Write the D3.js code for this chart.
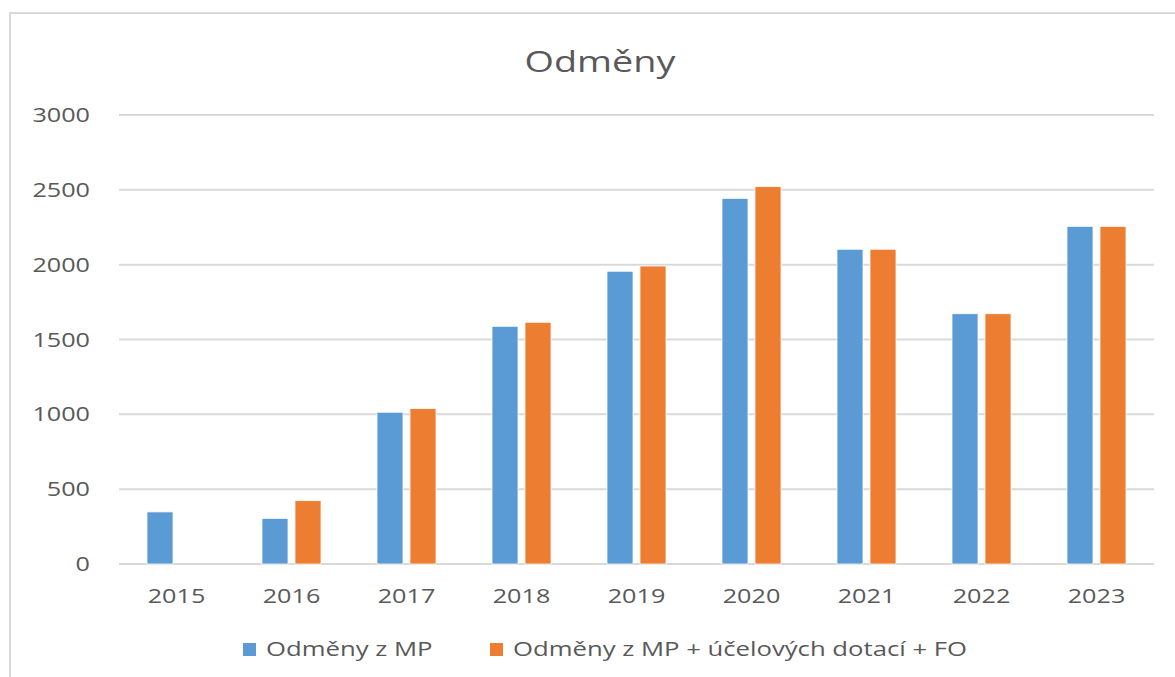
<!DOCTYPE html>
<html>
<head>
<meta charset="utf-8">
<script src="https://cdn.jsdelivr.net/npm/d3@7"></script>
<style>
  html, body { margin: 0; padding: 0; background: #fff; }
  text { font-family: "Open Sans", "Noto Sans", sans-serif; fill: #595959; }
</style>
</head>
<body>
<svg id="chart" width="1175" height="677"></svg>
<script>
const title = "Odměny";
const years = ["2015","2016","2017","2018","2019","2020","2021","2022","2023"];
const seriesNames = ["Odměny z MP", "Odměny z MP + účelových dotací + FO"];
const seriesMP = [348, 305, 1014, 1588, 1956, 2443, 2103, 1672, 2256];
const seriesMPplus = [null, 423, 1038, 1615, 1991, 2521, 2103, 1672, 2256];
const colors = ["#5B9BD5", "#ED7D31"];
const yTicks = [0, 500, 1000, 1500, 2000, 2500, 3000];

const svg = d3.select("#chart");
const SX = 1.26;
const plot = { left: 119, right: 1154, top: 115, bottom: 564 };

// chart border
svg.append("path")
  .attr("d", "M10,677 V13 H1175")
  .attr("fill", "none").attr("stroke", "#D9D9D9").attr("stroke-width", 2);

const x0 = d3.scaleBand().domain(years).range([plot.left, plot.right])
  .paddingInner(0.487).paddingOuter(0.2435);
const x1 = d3.scaleBand().domain([0, 1]).range([0, x0.bandwidth()]).paddingInner(0.212);
const y = d3.scaleLinear().domain([0, 3000]).range([plot.bottom, plot.top]);

// gridlines
svg.append("g").selectAll("line").data(yTicks).join("line")
  .attr("x1", plot.left).attr("x2", plot.right)
  .attr("y1", d => y(d)).attr("y2", d => y(d))
  .attr("stroke", "#D9D9D9").attr("stroke-width", 2);

// y labels
svg.append("g").selectAll("text").data(yTicks).join("text")
  .attr("transform", d => `translate(90,${y(d) + 7}) scale(${SX},1)`)
  .attr("text-anchor", "end")
  .attr("font-size", 20)
  .text(d => d);

// x labels
svg.append("g").selectAll("text").data(years).join("text")
  .attr("transform", d => `translate(${x0(d) + x0.bandwidth() / 2},${603}) scale(${SX},1)`)
  .attr("text-anchor", "middle")
  .attr("font-size", 20)
  .text(d => d);

// bars
const data = [seriesMP, seriesMPplus];
data.forEach((vals, si) => {
  svg.append("g").selectAll("rect")
    .data(years.map((yr, i) => ({ yr, v: vals[i] })).filter(d => d.v != null))
    .join("rect")
    .attr("x", d => x0(d.yr) + x1(si))
    .attr("width", x1.bandwidth())
    .attr("y", d => y(d.v))
    .attr("height", d => y(0) - y(d.v))
    .attr("fill", colors[si])
    .attr("stroke", "#fff").attr("stroke-width", 0.75);
});

// title
svg.append("text")
  .attr("transform", `translate(600,72) scale(${SX},1)`)
  .attr("text-anchor", "middle")
  .attr("font-size", 30)
  .text(title);

// legend
const legendX = [243, 490];
const lg = svg.append("g").selectAll("g").data(seriesNames).join("g")
  .attr("transform", (d, i) => `translate(${legendX[i]},643)`);
lg.append("rect").attr("width", 13).attr("height", 13).attr("fill", (d, i) => colors[i]);
lg.append("text")
  .attr("transform", `translate(23,13) scale(${SX},1)`)
  .attr("font-size", 20.4)
  .text(d => d);
</script>
</body>
</html>
